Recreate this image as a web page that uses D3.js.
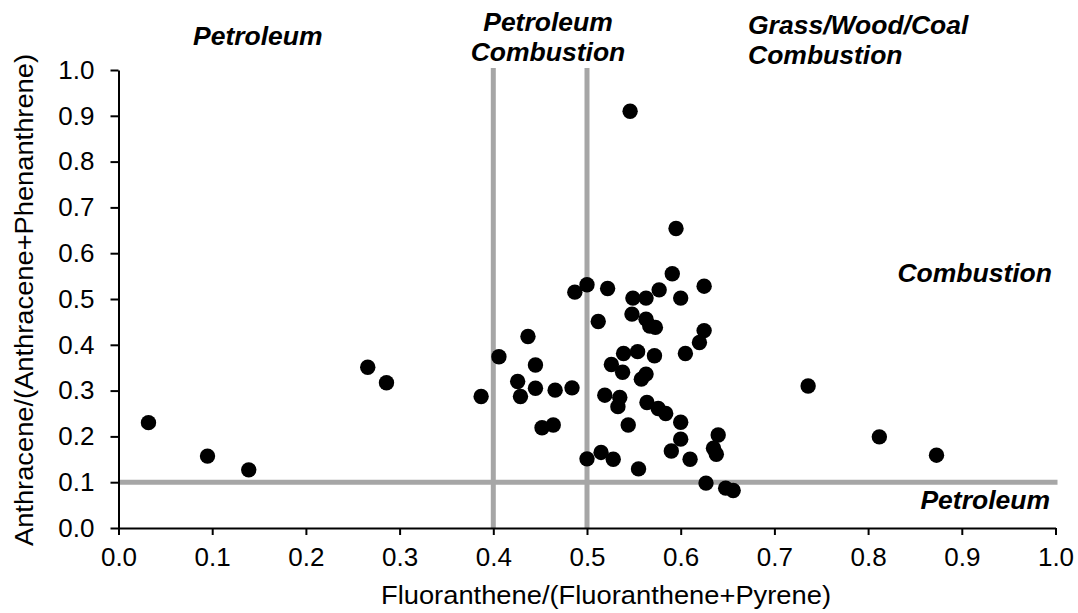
<!DOCTYPE html>
<html>
<head>
<meta charset="utf-8">
<script src="https://cdn.jsdelivr.net/npm/d3@7"></script>
<style>
  html, body { margin: 0; padding: 0; background: #ffffff; }
  svg { display: block; font-family: "Liberation Sans", Arial, Helvetica, sans-serif; }
</style>
</head>
<body>
<svg id="chart" width="1078" height="613"></svg>
<script>
// Diagnostic PAH ratios for each sample
const fluoRatio = [
  0.032, 0.095, 0.139, 0.266, 0.286, 0.387, 0.406, 0.437, 0.426, 0.429,
  0.445, 0.445, 0.466, 0.484, 0.452, 0.464, 0.500, 0.515, 0.487, 0.500,
  0.512, 0.522, 0.549, 0.563, 0.577, 0.600, 0.625, 0.591, 0.595, 0.546,
  0.548, 0.563, 0.567, 0.573, 0.625, 0.620, 0.605, 0.539, 0.554, 0.572,
  0.526, 0.538, 0.563, 0.558, 0.519, 0.535, 0.533, 0.564, 0.576, 0.584,
  0.600, 0.600, 0.590, 0.610, 0.544, 0.528, 0.555, 0.640, 0.635, 0.638,
  0.627, 0.648, 0.656, 0.736, 0.812, 0.873
];
const anthRatio = [
  0.230, 0.157, 0.127, 0.351, 0.317, 0.287, 0.374, 0.418, 0.320, 0.287,
  0.356, 0.305, 0.301, 0.306, 0.219, 0.225, 0.151, 0.165, 0.515, 0.531,
  0.451, 0.523, 0.502, 0.502, 0.520, 0.502, 0.528, 0.555, 0.654, 0.910,
  0.467, 0.456, 0.441, 0.438, 0.431, 0.405, 0.381, 0.381, 0.385, 0.376,
  0.357, 0.340, 0.336, 0.325, 0.290, 0.285, 0.265, 0.274, 0.261, 0.250,
  0.231, 0.194, 0.168, 0.150, 0.225, 0.150, 0.129, 0.203, 0.174, 0.161,
  0.098, 0.087, 0.082, 0.310, 0.199, 0.159
];

// Axis ticks
const xTicks = [0.0, 0.1, 0.2, 0.3, 0.4, 0.5, 0.6, 0.7, 0.8, 0.9, 1.0];
const yTicks = [0.0, 0.1, 0.2, 0.3, 0.4, 0.5, 0.6, 0.7, 0.8, 0.9, 1.0];

// Source-apportionment boundaries
const fluoThresholds = [0.4, 0.5];
const anthThresholds = [0.1];

const xTitle = "Fluoranthene/(Fluoranthene+Pyrene)";
const yTitle = "Anthracene/(Anthracene+Phenanthrene)";

// Region names, one entry per label (lines of text)
const regionLabels = [
  ["Petroleum"],
  ["Petroleum", "Combustion"],
  ["Grass/Wood/Coal", "Combustion"],
  ["Combustion"],
  ["Petroleum"]
];

// ---------------------------------------------------------------
const svg = d3.select("#chart");
const x = d3.scaleLinear().domain([0, 1]).range([118.5, 1055.5]);
const y = d3.scaleLinear().domain([0, 1]).range([528, 70]);

const points = fluoRatio.map((v, i) => ({ fx: v, ay: anthRatio[i] }));

// Boundary lines
const guides = svg.append("g").attr("stroke", "#a6a6a6").attr("stroke-width", 5);
guides.selectAll("line.v").data(fluoThresholds).join("line")
  .attr("class", "v")
  .attr("x1", d => x(d)).attr("x2", d => x(d))
  .attr("y1", y(0) + 1).attr("y2", y(1) - 2);
guides.selectAll("line.h").data(anthThresholds).join("line")
  .attr("class", "h")
  .attr("x1", x(0)).attr("x2", x(1) + 2)
  .attr("y1", d => y(d)).attr("y2", d => y(d));

// Axes
const fmt = d3.format(".1f");
const xAxis = svg.append("g")
  .attr("transform", `translate(0,${y(0)})`)
  .call(d3.axisBottom(x).tickValues(xTicks).tickFormat(fmt)
    .tickSize(7).tickSizeOuter(0).tickPadding(13));
const yAxis = svg.append("g")
  .attr("transform", `translate(${x(0)},0)`)
  .call(d3.axisLeft(y).tickValues(yTicks).tickFormat(fmt)
    .tickSize(8).tickSizeOuter(0).tickPadding(16));

[xAxis, yAxis].forEach(g => {
  g.attr("font-family", null).attr("font-size", null);
  g.select(".domain").attr("stroke", "#000").attr("stroke-width", 2);
  g.selectAll(".tick line").attr("stroke", "#000").attr("stroke-width", 2);
  g.selectAll(".tick text").attr("fill", "#000").style("font-size", "26px");
});

// Axis titles
svg.append("text")
  .attr("x", 606).attr("y", 604)
  .attr("text-anchor", "middle")
  .attr("textLength", 450).attr("lengthAdjust", "spacingAndGlyphs")
  .style("font-size", "25px").attr("fill", "#000")
  .text(xTitle);

svg.append("text")
  .attr("transform", "translate(33,300) rotate(-90)")
  .attr("text-anchor", "middle")
  .attr("textLength", 492).attr("lengthAdjust", "spacingAndGlyphs")
  .style("font-size", "25px").attr("fill", "#000")
  .text(yTitle);

// Sample points
svg.append("g").selectAll("circle").data(points).join("circle")
  .attr("cx", d => x(d.fx))
  .attr("cy", d => y(d.ay))
  .attr("r", 7.7)
  .attr("fill", "#000");

// Region names
const labelLayout = [
  { x: 193, y: 45, anchor: "start" },
  { x: 548, y: 31, anchor: "middle" },
  { x: 748, y: 34, anchor: "start" },
  { x: 1052, y: 282, anchor: "end" },
  { x: 1050, y: 509, anchor: "end" }
];
const lineGap = 29.5;
regionLabels.forEach((lines, i) => {
  const pos = labelLayout[i];
  const t = svg.append("text")
    .attr("x", pos.x).attr("y", pos.y)
    .attr("text-anchor", pos.anchor)
    .style("font-size", "26.5px").style("font-weight", "bold").style("font-style", "italic")
    .attr("fill", "#000");
  lines.forEach((ln, j) => {
    t.append("tspan").attr("x", pos.x).attr("y", pos.y + j * lineGap).text(ln);
  });
});
</script>
</body>
</html>
